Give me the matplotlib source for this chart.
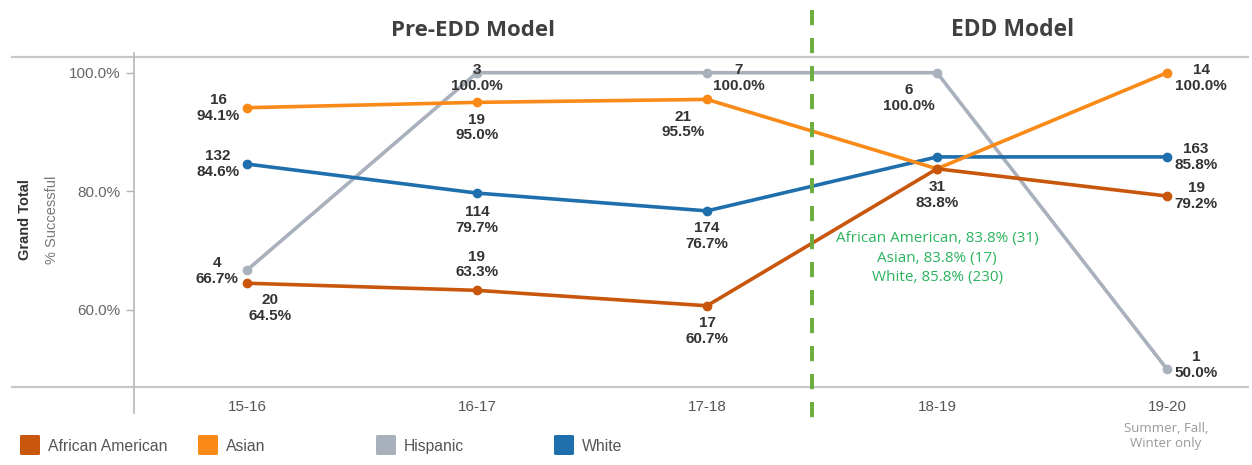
import matplotlib
matplotlib.use("Agg")
import matplotlib.pyplot as plt
from matplotlib.patches import FancyBboxPatch

# ---------------- data ----------------
years = ["15-16", "16-17", "17-18", "18-19", "19-20"]
series_names = ["African American", "Asian", "Hispanic", "White"]
african_american_pct = [64.5, 63.3, 60.7, 83.8, 79.2]
african_american_n = [20, 19, 17, 31, 19]
asian_pct = [94.1, 95.0, 95.5, 83.8, 100.0]
asian_n = [16, 19, 21, 17, 14]
hispanic_pct = [66.7, 100.0, 100.0, 100.0, 50.0]
hispanic_n = [4, 3, 7, 6, 1]
white_pct = [84.6, 79.7, 76.7, 85.8, 85.8]
white_n = [132, 114, 174, 230, 163]
yticks = [60.0, 80.0, 100.0]
callout_lines = ["African American, 83.8% (31)", "Asian, 83.8% (17)", "White, 85.8% (230)"]

# ---------------- styles ----------------
colors = {"African American": "#c8560c", "Asian": "#f98a17",
          "Hispanic": "#a9b1bc", "White": "#1f6fad"}
values = {"African American": (african_american_pct, african_american_n),
          "Asian": (asian_pct, asian_n),
          "Hispanic": (hispanic_pct, hispanic_n),
          "White": (white_pct, white_n)}
# label offsets in pixels (dx, dy) per point; None = no label
offsets = {
    "African American": [(23, -25), (0, 26), (0, -25), (0, -26), (29, 0)],
    "Asian": [(-29, 0), (0, -25), (-24, -25), None, (34, -5)],
    "Hispanic": [(-30, -1), (0, -5), (32, -5), (-28, -25), (29, 4)],
    "White": [(-29, 0), (0, -27), (0, -25), None, (29, 0)],
}
draw_order = ["Hispanic", "White", "Asian", "African American"]

W, H = 1252, 465
fig = plt.figure(figsize=(W / 100, H / 100), dpi=100)
fig.patch.set_facecolor("white")

def fx(px):
    return px / W

def fy(py):
    return 1 - py / H

ax_l, ax_r, ax_t, ax_b = 134, 1245, 57, 387
ax = fig.add_axes([fx(ax_l), fy(ax_b), fx(ax_r - ax_l), (ax_b - ax_t) / H])
ax.set_facecolor("none")

x = list(range(len(years)))
for name in draw_order:
    pct, n = values[name]
    ax.plot(x, pct, color=colors[name], lw=2.6, marker="o", ms=6,
            solid_capstyle="round", zorder=3, clip_on=False)
    for i, (v, c) in enumerate(zip(pct, n)):
        off = offsets[name][i]
        if off is None:
            continue
        ax.annotate(f"{c}\n{v:.1f}%", (i, v), xytext=off, textcoords="offset pixels",
                    ha="center", va="center", fontsize=11, fontweight="bold",
                    family="Liberation Sans", color="#333333", linespacing=1.15,
                    zorder=5, annotation_clip=False)

ax.set_xlim(-0.491, 4.339)
ax.set_ylim(47.0, 102.65)
ax.set_yticks(yticks)
ax.set_yticklabels([f"{t:.1f}%" for t in yticks])
ax.set_xticks(x)
ax.set_xticklabels(years)
ax.tick_params(axis="y", length=6, width=1, color="#b5b5b5", pad=4,
               labelsize=11, labelcolor="#666666")
ax.tick_params(axis="x", length=0, pad=9, labelsize=11, labelcolor="#555555")
for lab in ax.get_xticklabels() + ax.get_yticklabels():
    lab.set_family("Liberation Sans")
for s in ax.spines.values():
    s.set_visible(False)

# frame lines (extend beyond axes like the original)
fig.add_artist(plt.Line2D([fx(12), fx(1248)], [fy(ax_t), fy(ax_t)], color="#c8c8c8", lw=1.6))
fig.add_artist(plt.Line2D([fx(12), fx(1248)], [fy(ax_b), fy(ax_b)], color="#c8c8c8", lw=1.6))
fig.add_artist(plt.Line2D([fx(ax_l), fx(ax_l)], [fy(53), fy(413)], color="#b8b8b8", lw=1.2))

# green dashed divider
fig.add_artist(plt.Line2D([fx(812), fx(812)], [fy(10), fy(428)], color="#6aad3d",
                          lw=2.8, linestyle=(0, (3.9, 3.3))))

# section titles
fig.text(fx(473), fy(30), "Pre-EDD Model", ha="center", va="center", fontsize=16,
         fontweight="bold", family="Open Sans", color="#404040")
fig.text(fx(1013), fy(30), "EDD Model", ha="center", va="center", fontsize=16.5,
         fontweight="bold", family="Open Sans", color="#404040")

# green callout
ax.text(3, 68.75, "\n".join(callout_lines), ha="center", va="center", fontsize=11,
        family="Open Sans", color="#2bb35e", linespacing=1.4, zorder=6)

# footnote under 19-20
fig.text(fx(1166), fy(436), "Summer, Fall,\nWinter only", ha="center", va="center",
         fontsize=9.5, family="Open Sans", color="#999999", linespacing=1.25)

# y labels
fig.text(fx(25), fy(220), "Grand Total", rotation=90, ha="center", va="center",
         fontsize=10.5, fontweight="bold", family="Liberation Sans", color="#333333")
fig.text(fx(52), fy(220), "% Successful", rotation=90, ha="center", va="center",
         fontsize=10.5, family="Liberation Sans", color="#777777")

# legend
leg_x0 = 20
for k, name in enumerate(series_names):
    sx = leg_x0 + 178 * k
    fig.add_artist(FancyBboxPatch((fx(sx), fy(455)), fx(20), 20 / H,
                                  boxstyle="round,pad=0,rounding_size=0.002",
                                  transform=fig.transFigure, facecolor=colors[name],
                                  edgecolor="none"))
    fig.text(fx(sx + 28), fy(446), name, ha="left", va="center", fontsize=11.3,
             family="Liberation Sans", color="#555555")

fig.savefig("out.png", dpi=100, facecolor="white")
